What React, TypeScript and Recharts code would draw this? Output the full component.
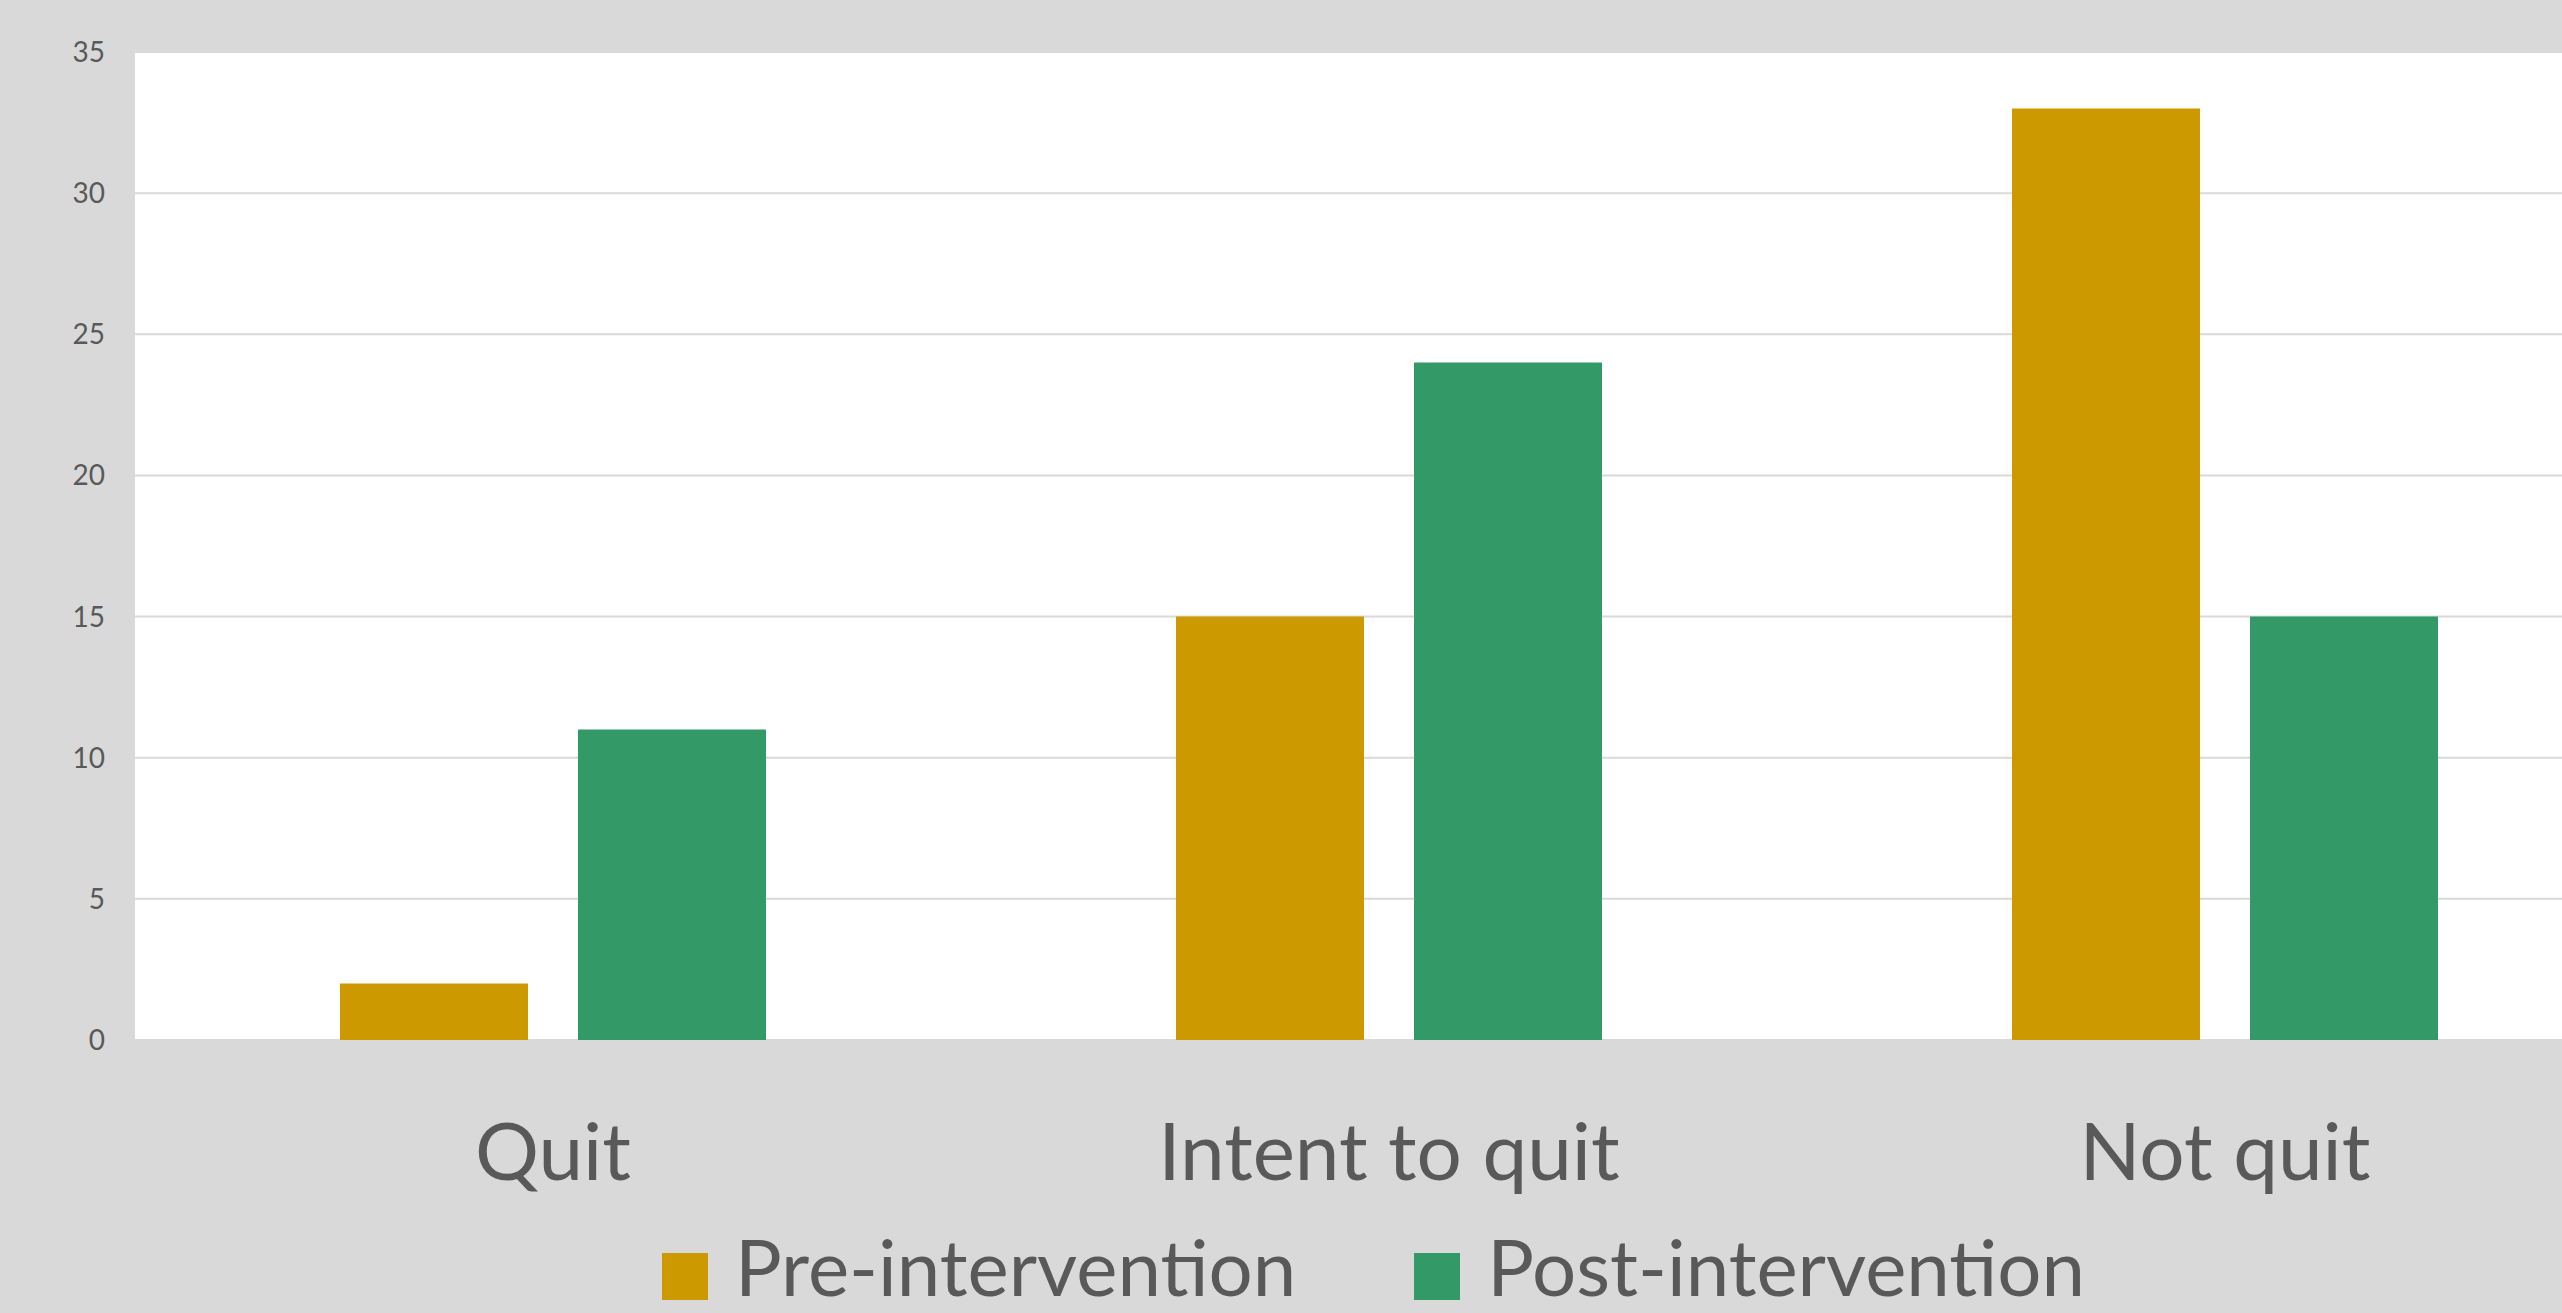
import React from 'react';
import { BarChart, Bar, XAxis, YAxis, CartesianGrid, Legend } from 'recharts';

const categories = ['Quit', 'Intent to quit', 'Not quit'];
const preIntervention = [2, 15, 33];
const postIntervention = [11, 24, 15];
const yTicks = [0, 5, 10, 15, 20, 25, 30, 35];
const seriesOrder = ['pre', 'post'];

const FONT = 'Lato, "Open Sans", sans-serif';
const TEXT = '#595959';
const PRE = '#CC9900';
const POST = '#339966';

const data = categories.map((name, i) => ({
  name,
  pre: preIntervention[i],
  post: postIntervention[i],
}));

const LegendContent = (props: any) => {
  const payload = [...(props.payload || [])].sort(
    (a: any, b: any) => seriesOrder.indexOf(a.dataKey) - seriesOrder.indexOf(b.dataKey)
  );
  return (
    <div style={{ fontFamily: FONT, fontSize: 78, lineHeight: 1, color: TEXT, whiteSpace: 'nowrap' }}>
      {payload.map((entry: any, i: number) => (
        <span key={`legend-${i}`} style={{ marginRight: i < payload.length - 1 ? 118 : 0 }}>
          <span style={{ display: 'inline-block', width: 46, height: 47, background: entry.color, marginRight: 27, verticalAlign: -4 }} />
          {entry.value}
        </span>
      ))}
    </div>
  );
};

const App: React.FC = () => {
  return (
    <div style={{ position: 'fixed', left: 0, top: 0, width: 2562, height: 1313, overflow: 'hidden', background: '#d9d9d9' }}>
      <BarChart
        width={2660}
        height={1313}
        data={data}
        margin={{ top: 52, right: 17, left: 0, bottom: 133 }}
        barCategoryGap={205}
        barGap={50}
      >
        <CartesianGrid vertical={false} stroke="#d9d9d9" strokeWidth={2} fill="#ffffff" fillOpacity={1} />
        <XAxis
          dataKey="name"
          height={140}
          axisLine={false}
          tickLine={false}
          tickSize={0}
          tickMargin={83}
          tick={{ fill: TEXT, fontSize: 80, fontFamily: FONT }}
        />
        <YAxis
          width={135}
          domain={[0, 35]}
          ticks={yTicks}
          axisLine={false}
          tickLine={false}
          tickSize={0}
          tickMargin={30}
          tick={{ fill: TEXT, fontSize: 28, fontFamily: FONT }}
        />
        <Legend
          layout="horizontal"
          verticalAlign="middle"
          align="center"
          content={<LegendContent />}
          wrapperStyle={{ left: 662, top: 1227, width: 'auto' }}
        />
        <Bar dataKey="pre" name="Pre-intervention" fill={PRE} isAnimationActive={false} />
        <Bar dataKey="post" name="Post-intervention" fill={POST} isAnimationActive={false} />
      </BarChart>
    </div>
  );
};

export default App;
